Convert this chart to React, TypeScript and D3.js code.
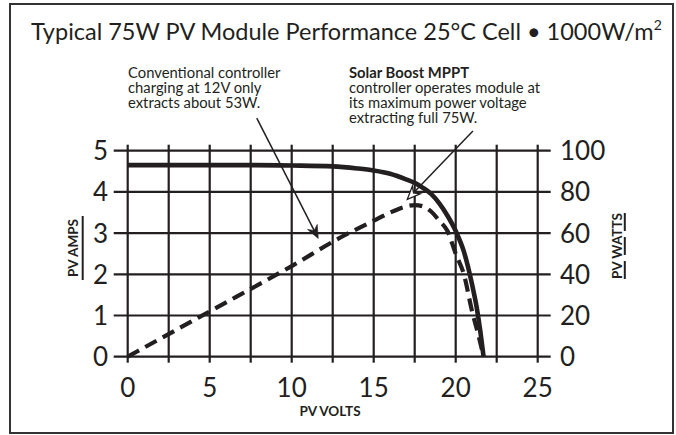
import React from 'react';
import * as d3 from 'd3';

// PV module I-V curve
const ivVolts = [0, 2.5, 5, 7.5, 10, 12.5, 14, 15, 16, 17, 17.5, 18, 18.5, 19, 19.5, 20, 20.5, 21, 21.3, 21.5, 21.7];
const ivAmps = [4.65, 4.65, 4.65, 4.65, 4.64, 4.62, 4.57, 4.52, 4.44, 4.3, 4.22, 4.1, 3.95, 3.72, 3.42, 3.05, 2.55, 1.75, 1.15, 0.62, 0];

// power curve
const pvVolts = [0, 5, 10, 13, 15, 16, 17, 17.5, 18, 18.5, 19, 19.5, 20, 20.5, 21, 21.4, 21.7];
const pvWatts = [0, 22, 44, 58, 66, 70, 73, 73.6, 73, 70.5, 66, 61, 50, 40, 22, 10, 0];

const voltTicks = [0, 5, 10, 15, 20, 25];
const voltGrid = [0, 2.5, 5, 7.5, 10, 12.5, 15, 17.5, 20, 22.5, 25];
const ampTicks = [0, 1, 2, 3, 4, 5];
const wattTicks = [0, 20, 40, 60, 80, 100];

const title = 'Typical 75W PV Module Performance 25°C Cell • 1000W/m';
const leftNote = ['Conventional controller', 'charging at 12V only', 'extracts about 53W.'];
const rightNoteHead = 'Solar Boost MPPT';
const rightNote = ['controller operates module at', 'its maximum power voltage', 'extracting full 75W.'];

// arrows in data units: [fromV, fromA, toV, toA]
const arrowConv = [7.87, 5.79, 11.62, 2.87];
const arrowMppt = [21.05, 5.48, 17.05, 3.82];

const W = 676;
const H = 435;
const INK = '#231f20';
const FONT = 'Lato, "Open Sans", sans-serif';

const x = d3.scaleLinear().domain([0, 25]).range([127.7, 537.7]);
const yA = d3.scaleLinear().domain([0, 5]).range([356.7, 150.7]);
const yW = d3.scaleLinear().domain([0, 100]).range([356.7, 150.7]);

function Arrow({ a, filled }) {
  const x1 = x(a[0]), y1 = yA(a[1]), x2 = x(a[2]), y2 = yA(a[3]);
  const ang = (Math.atan2(y2 - y1, x2 - x1) * 180) / Math.PI;
  // concave arrow head, tip at origin pointing +x
  const head = 'M0,0 L-13,-5.5 L-9,0 L-13,5.5 Z';
  const len = Math.hypot(x2 - x1, y2 - y1);
  return (
    <g transform={`translate(${x1},${y1}) rotate(${ang})`}>
      <line x1={0} y1={0} x2={len - 8} y2={0} stroke={INK} strokeWidth={1.5} />
      <path
        d={head}
        transform={`translate(${len},0)`}
        fill={filled ? INK : '#fff'}
        stroke={INK}
        strokeWidth={filled ? 0.5 : 1.3}
        strokeLinejoin="miter"
      />
    </g>
  );
}

export default function App() {
  const ampLine = d3
    .line<number>()
    .x((d, i) => x(ivVolts[i]))
    .y((d) => yA(d))
    .curve(d3.curveMonotoneX);
  const wattLine = d3
    .line<number>()
    .x((d, i) => x(pvVolts[i]))
    .y((d) => yW(d))
    .curve(d3.curveMonotoneX);

  const [x0, x1] = x.range();
  const [yb, yt] = yA.range();

  return (
    <div style={{ position: 'absolute', left: 0, top: 0 }}>
      <svg width={W} height={H} style={{ display: 'block', background: '#fff' }} fontFamily={FONT}>
        <rect x={10} y={4} width={663} height={429} fill="#fff" stroke="#333" strokeWidth={2} />

        <text x={31} y={40} fontSize={23.5} fill={INK}>
          {title}
          <tspan fontSize={14} dy={-10}>2</tspan>
        </text>

        {/* annotations */}
        <text fontSize={14.8} fill={INK}>
          {leftNote.map((s, i) => (
            <tspan key={i} x={128} y={78 + i * 15}>{s}</tspan>
          ))}
        </text>
        <text fontSize={14.8} fill={INK}>
          <tspan x={349} y={78} fontWeight="bold">{rightNoteHead}</tspan>
          {rightNote.map((s, i) => (
            <tspan key={i} x={349} y={93 + i * 15}>{s}</tspan>
          ))}
        </text>

        {/* grid */}
        <g stroke={INK} strokeWidth={2.2}>
          {voltGrid.map((v) => (
            <line key={'v' + v} x1={x(v)} x2={x(v)} y1={yt - 6} y2={yb + 6} />
          ))}
          {ampTicks.map((a) => (
            <line key={'h' + a} x1={x0 - 14} x2={x1 + 13} y1={yA(a)} y2={yA(a)} />
          ))}
        </g>

        {/* tick labels */}
        <g fontSize={26} fill={INK}>
          {ampTicks.map((a) => (
            <text key={'a' + a} x={108} y={yA(a) + 9.5} textAnchor="end">{a}</text>
          ))}
          {wattTicks.map((w) => (
            <text key={'w' + w} x={560} y={yW(w) + 9.5}>{w}</text>
          ))}
          {voltTicks.map((v) => (
            <text key={'x' + v} x={x(v)} y={397} textAnchor="middle">{v}</text>
          ))}
        </g>

        {/* axis titles */}
        <text x={330} y={416} textAnchor="middle" fontSize={13.5} fontWeight="bold" fill={INK}>PV VOLTS</text>
        <text transform="translate(78,248) rotate(-90)" textAnchor="middle" fontSize={13.5} fontWeight="bold" fill={INK}>PV AMPS</text>
        <line x1={82.7} x2={82.7} y1={216} y2={280} stroke={INK} strokeWidth={2} />
        <text transform="translate(621.5,246) rotate(-90)" textAnchor="middle" fontSize={13.5} fontWeight="bold" fill={INK}>PV WATTS</text>
        <line x1={624.8} x2={624.8} y1={213} y2={280} stroke={INK} strokeWidth={2} strokeDasharray="18 6" />

        {/* curves */}
        <path d={wattLine(pvWatts) || ''} fill="none" stroke={INK} strokeWidth={4.2} strokeDasharray="13 7" />
        <path d={ampLine(ivAmps) || ''} fill="none" stroke={INK} strokeWidth={4.6} />

        <Arrow a={arrowConv} filled />
        <Arrow a={arrowMppt} filled={false} />
      </svg>
    </div>
  );
}
